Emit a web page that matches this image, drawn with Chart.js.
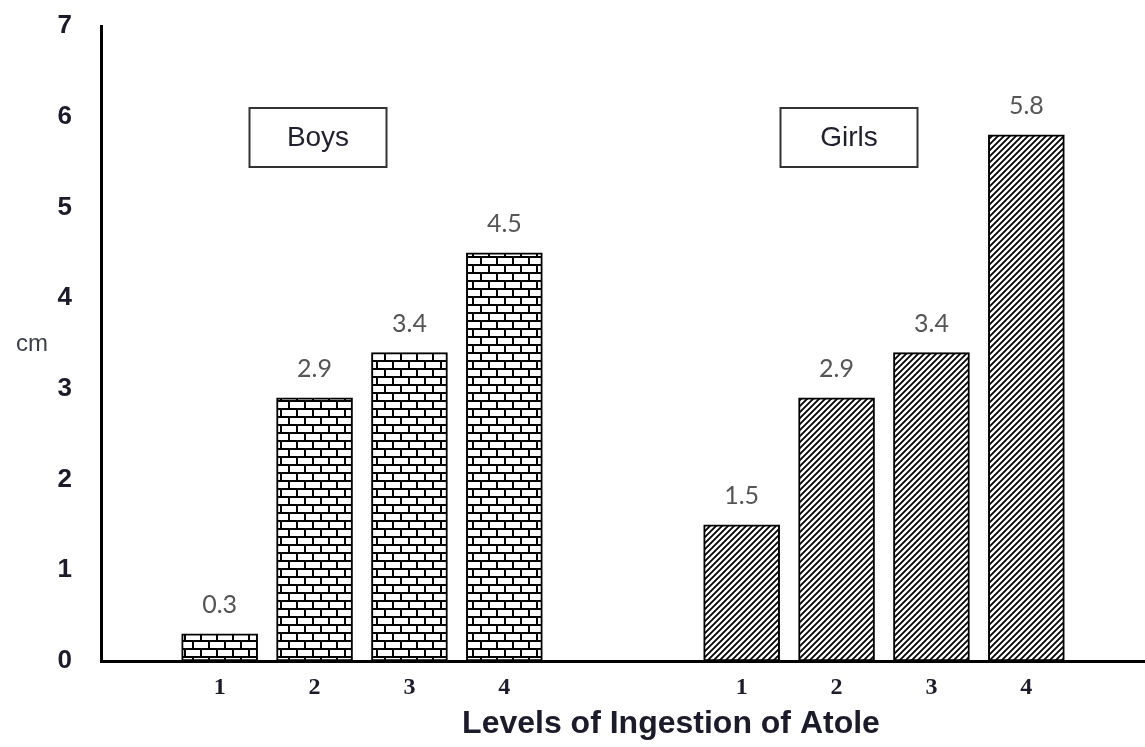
<!DOCTYPE html>
<html>
<head>
<meta charset="utf-8">
<script src="https://cdn.jsdelivr.net/npm/chart.js@4/dist/chart.umd.min.js"></script>
<style>
  html, body { margin: 0; padding: 0; background: #fff; }
  #wrap { width: 1145px; height: 747px; }
</style>
</head>
<body>
<div id="wrap"><canvas id="chart" width="1145" height="747"></canvas></div>
<script>
// ── Data ──────────────────────────────────────────────────────────────────────
const levels = ['1', '2', '3', '4'];
const boys   = [0.3, 2.9, 3.4, 4.5];
const girls  = [1.5, 2.9, 3.4, 5.8];
const groups = ['Boys', 'Girls'];
const yTicks = [0, 1, 2, 3, 4, 5, 6, 7];
const xTitle = 'Levels of Ingestion of Atole';
const yTitle = 'cm';

// ── Slot layout: 22 half-width slots, each group on every second slot ────────
const SLOTS       = 22;
const groupStart  = [2, 13];
const slotLabels  = new Array(SLOTS).fill('');
const boysSlots   = new Array(SLOTS).fill(null);
const girlsSlots  = new Array(SLOTS).fill(null);
levels.forEach((lvl, i) => {
    slotLabels[groupStart[0] + i * 2] = lvl;
    slotLabels[groupStart[1] + i * 2] = lvl;
    boysSlots[groupStart[0] + i * 2]  = boys[i];
    girlsSlots[groupStart[1] + i * 2] = girls[i];
});

// ── Fill patterns ─────────────────────────────────────────────────────────────
function brickPattern(ctx) {
    const c = document.createElement('canvas');
    c.width = 16; c.height = 16;
    const g = c.getContext('2d');
    g.fillStyle = '#fff';
    g.fillRect(0, 0, 16, 16);
    g.fillStyle = '#000';
    g.fillRect(0, 0, 16, 2);
    g.fillRect(0, 8, 16, 2);
    g.fillRect(0, 0, 2, 8);
    g.fillRect(8, 8, 2, 8);
    return ctx.createPattern(c, 'repeat');
}

function hatchPattern(ctx) {
    const s = 6;
    const c = document.createElement('canvas');
    c.width = s; c.height = s;
    const g = c.getContext('2d');
    g.fillStyle = '#fff';
    g.fillRect(0, 0, s, s);
    g.strokeStyle = '#000';
    g.lineWidth = 1.8;
    g.beginPath();
    g.moveTo(0, s);      g.lineTo(s, 0);
    g.moveTo(-s / 2, s / 2); g.lineTo(s / 2, -s / 2);
    g.moveTo(s / 2, s * 1.5); g.lineTo(s * 1.5, s / 2);
    g.stroke();
    return ctx.createPattern(c, 'repeat');
}

const canvas = document.getElementById('chart');
const ctx2d  = canvas.getContext('2d');

const darkText = '#1b1b2b';

// ── Value labels, group boxes, axis titles ────────────────────────────────────
const annotations = {
    id: 'annotations',
    afterDatasetsDraw(chart) {
        const { ctx, chartArea } = chart;
        ctx.save();

        // values above bars
        ctx.font = '25px Lato, "Open Sans", sans-serif';
        ctx.fillStyle = '#555555';
        ctx.textAlign = 'center';
        ctx.textBaseline = 'middle';
        chart.data.datasets.forEach((ds, di) => {
            chart.getDatasetMeta(di).data.forEach((bar, i) => {
                const v = ds.data[i];
                if (v === null) return;
                ctx.fillText(v.toFixed(1), bar.x, bar.y - 29);
            });
        });

        // group boxes
        const boxW = 137, boxH = 59, boxTop = 108;
        const boxCenters = [chartArea.left + 217, chartArea.left + 748];
        groups.forEach((name, i) => {
            const x = boxCenters[i] - boxW / 2;
            ctx.fillStyle = '#fff';
            ctx.fillRect(x, boxTop, boxW, boxH);
            ctx.strokeStyle = '#333';
            ctx.lineWidth = 2;
            ctx.strokeRect(x, boxTop, boxW, boxH);
            ctx.fillStyle = '#1f1f2f';
            ctx.font = '28px "Liberation Sans", Arial, sans-serif';
            ctx.fillText(name, boxCenters[i], boxTop + boxH / 2 + 1);
        });

        // y title (horizontal, left)
        ctx.fillStyle = '#3a3f4a';
        ctx.font = '24px "Liberation Sans", Arial, sans-serif';
        ctx.fillText(yTitle, 32, 344);

        // x title
        ctx.fillStyle = darkText;
        ctx.font = 'bold 32px "Liberation Sans", Arial, sans-serif';
        ctx.fillText(xTitle, chartArea.left + 570, 724);

        ctx.restore();
    },
};

new Chart(canvas, {
    type: 'bar',
    data: {
        labels: slotLabels,
        datasets: [
            {
                label: groups[0],
                data: boysSlots,
                backgroundColor: brickPattern(ctx2d),
                borderColor: '#000',
                borderWidth: 2,
                borderSkipped: false,
                barThickness: 76,
                skipNull: true,
            },
            {
                label: groups[1],
                data: girlsSlots,
                backgroundColor: hatchPattern(ctx2d),
                borderColor: '#000',
                borderWidth: 2,
                borderSkipped: false,
                barThickness: 76,
                skipNull: true,
            },
        ],
    },
    options: {
        responsive: false,
        animation: false,
        layout: { padding: { top: 26, right: 0, left: 0, bottom: 0 } },
        plugins: {
            legend:  { display: false },
            tooltip: { enabled: false },
        },
        scales: {
            x: {
                grid:   { display: false, drawTicks: false },
                border: { display: true, color: '#000', width: 3 },
                ticks: {
                    autoSkip: false,
                    maxRotation: 0,
                    padding: 12,
                    color: darkText,
                    font: { family: '"Liberation Serif", "Times New Roman", serif', weight: 'bold', size: 24 },
                },
                afterFit(scale) { scale.height = 86; },
            },
            y: {
                min: 0,
                max: 7,
                afterBuildTicks(scale) { scale.ticks = yTicks.map((v) => ({ value: v })); },
                grid:   { display: false, drawTicks: false },
                border: { display: true, color: '#000', width: 3 },
                ticks: {
                    padding: 29,
                    color: darkText,
                    font: { family: '"Liberation Sans", Arial, sans-serif', weight: 'bold', size: 26 },
                },
                afterFit(scale) {
                    scale.width = 101;
                    scale.paddingTop = 0;
                    scale.paddingBottom = 0;
                },
            },
        },
    },
    plugins: [annotations],
});
</script>
</body>
</html>
